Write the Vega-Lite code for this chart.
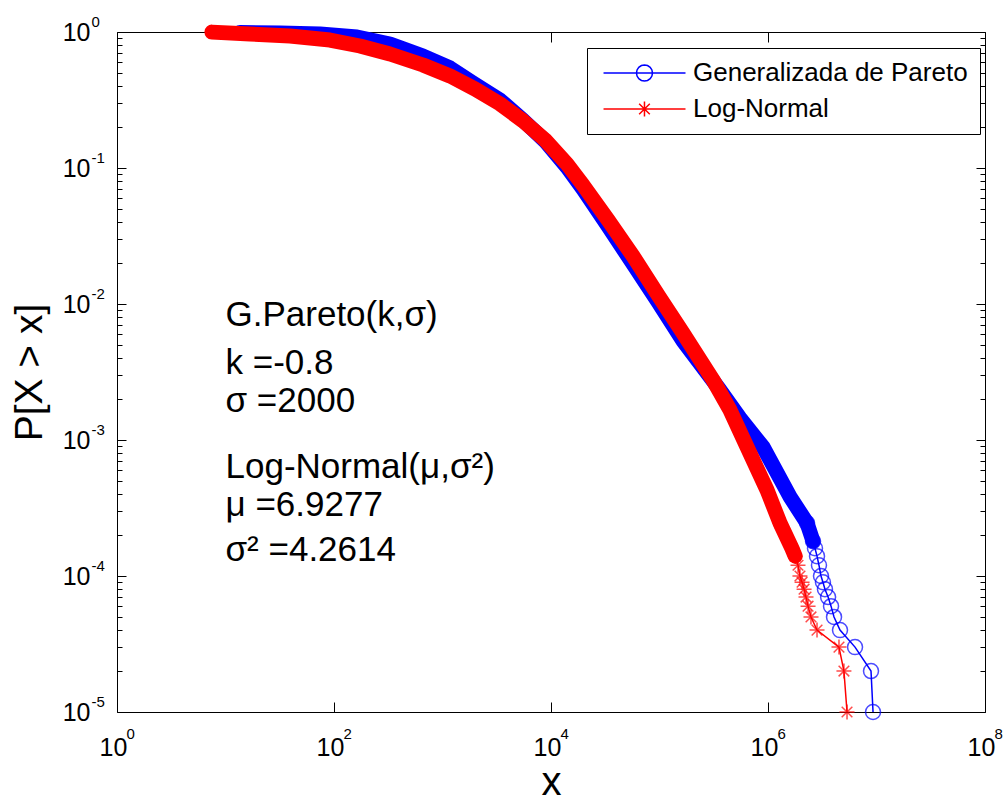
{
  "$schema": "https://vega.github.io/schema/vega-lite/v6.json",
  "width": 868,
  "height": 680,
  "autosize": {"type": "none"},
  "padding": {"left": 117, "top": 32, "right": 23, "bottom": 91},
  "background": "white",
  "config": {
    "view": {"stroke": null},
    "font": "Liberation Sans",
    "axis": {
      "labelFont": "Liberation Sans",
      "titleFont": "Liberation Sans",
      "labelColor": "black",
      "titleColor": "black",
      "tickColor": "black",
      "tickWidth": 1,
      "domainColor": "black",
      "domainWidth": 1,
      "domain": false,
      "grid": false,
      "labelFlush": false,
      "labelOverlap": false,
      "labelBound": false,
      "titleFontWeight": "normal",
      "zindex": 1
    }
  },
  "datasets": {
    "curves": [
      {"serie": "Generalizada de Pareto", "x": 13.6, "p": 0.992},
      {"serie": "Generalizada de Pareto", "x": 31.8, "p": 0.983},
      {"serie": "Generalizada de Pareto", "x": 74.3, "p": 0.967},
      {"serie": "Generalizada de Pareto", "x": 163, "p": 0.919},
      {"serie": "Generalizada de Pareto", "x": 328, "p": 0.816},
      {"serie": "Generalizada de Pareto", "x": 661, "p": 0.666},
      {"serie": "Generalizada de Pareto", "x": 1172, "p": 0.544},
      {"serie": "Generalizada de Pareto", "x": 1910, "p": 0.422},
      {"serie": "Generalizada de Pareto", "x": 3390, "p": 0.316},
      {"serie": "Generalizada de Pareto", "x": 5520, "p": 0.225},
      {"serie": "Generalizada de Pareto", "x": 8810, "p": 0.158},
      {"serie": "Generalizada de Pareto", "x": 14040, "p": 0.1016},
      {"serie": "Generalizada de Pareto", "x": 19720, "p": 0.0701},
      {"serie": "Generalizada de Pareto", "x": 33500, "p": 0.0375},
      {"serie": "Generalizada de Pareto", "x": 57000, "p": 0.0197},
      {"serie": "Generalizada de Pareto", "x": 96900, "p": 0.01035},
      {"serie": "Generalizada de Pareto", "x": 164800, "p": 0.00535},
      {"serie": "Generalizada de Pareto", "x": 361000, "p": 0.00233},
      {"serie": "Generalizada de Pareto", "x": 552000, "p": 0.00145},
      {"serie": "Generalizada de Pareto", "x": 899000, "p": 0.000889},
      {"serie": "Generalizada de Pareto", "x": 1600000, "p": 0.000381},
      {"serie": "Generalizada de Pareto", "x": 2290000, "p": 0.000245},
      {"serie": "Generalizada de Pareto", "x": 2600000, "p": 0.00018},
      {"serie": "Generalizada de Pareto", "x": 2710000, "p": 0.00016},
      {"serie": "Generalizada de Pareto", "x": 2830000, "p": 0.00014},
      {"serie": "Generalizada de Pareto", "x": 2950000, "p": 0.00012},
      {"serie": "Generalizada de Pareto", "x": 3080000, "p": 0.0001},
      {"serie": "Generalizada de Pareto", "x": 3210000, "p": 0.00009},
      {"serie": "Generalizada de Pareto", "x": 3350000, "p": 0.00008},
      {"serie": "Generalizada de Pareto", "x": 3580000, "p": 0.00007},
      {"serie": "Generalizada de Pareto", "x": 3810000, "p": 0.00006},
      {"serie": "Generalizada de Pareto", "x": 4060000, "p": 0.00005},
      {"serie": "Generalizada de Pareto", "x": 4610000, "p": 0.00004},
      {"serie": "Generalizada de Pareto", "x": 6340000, "p": 0.00003},
      {"serie": "Generalizada de Pareto", "x": 8900000, "p": 0.00002},
      {"serie": "Generalizada de Pareto", "x": 9290000, "p": 0.00001},
      {"serie": "Log-Normal", "x": 7.5, "p": 0.998},
      {"serie": "Log-Normal", "x": 16.8, "p": 0.967},
      {"serie": "Log-Normal", "x": 39.3, "p": 0.934},
      {"serie": "Log-Normal", "x": 91.8, "p": 0.873},
      {"serie": "Log-Normal", "x": 173.6, "p": 0.789},
      {"serie": "Log-Normal", "x": 328, "p": 0.689},
      {"serie": "Log-Normal", "x": 661, "p": 0.572},
      {"serie": "Log-Normal", "x": 1172, "p": 0.475},
      {"serie": "Log-Normal", "x": 1994, "p": 0.381},
      {"serie": "Log-Normal", "x": 3390, "p": 0.296},
      {"serie": "Log-Normal", "x": 5520, "p": 0.222},
      {"serie": "Log-Normal", "x": 8810, "p": 0.161},
      {"serie": "Log-Normal", "x": 14040, "p": 0.107},
      {"serie": "Log-Normal", "x": 19720, "p": 0.075},
      {"serie": "Log-Normal", "x": 33500, "p": 0.0415},
      {"serie": "Log-Normal", "x": 57000, "p": 0.02254},
      {"serie": "Log-Normal", "x": 96900, "p": 0.01165},
      {"serie": "Log-Normal", "x": 164800, "p": 0.00612},
      {"serie": "Log-Normal", "x": 311400, "p": 0.00276},
      {"serie": "Log-Normal", "x": 446700, "p": 0.00166},
      {"serie": "Log-Normal", "x": 640300, "p": 0.000889},
      {"serie": "Log-Normal", "x": 979000, "p": 0.000429},
      {"serie": "Log-Normal", "x": 1290000, "p": 0.000245},
      {"serie": "Log-Normal", "x": 1660000, "p": 0.00016},
      {"serie": "Log-Normal", "x": 1780000, "p": 0.00014},
      {"serie": "Log-Normal", "x": 1890000, "p": 0.00012},
      {"serie": "Log-Normal", "x": 1970000, "p": 0.0001},
      {"serie": "Log-Normal", "x": 2060000, "p": 0.00009},
      {"serie": "Log-Normal", "x": 2150000, "p": 0.00008},
      {"serie": "Log-Normal", "x": 2240000, "p": 0.00007},
      {"serie": "Log-Normal", "x": 2340000, "p": 0.00006},
      {"serie": "Log-Normal", "x": 2490000, "p": 0.00005},
      {"serie": "Log-Normal", "x": 2830000, "p": 0.00004},
      {"serie": "Log-Normal", "x": 4510000, "p": 0.00003},
      {"serie": "Log-Normal", "x": 5010000, "p": 0.00002},
      {"serie": "Log-Normal", "x": 5350000, "p": 0.00001}
    ],
    "notes": [
      {"label": "G.Pareto(k,σ)", "x": 10, "p": 0.0083},
      {"label": "k =-0.8", "x": 10, "p": 0.0037},
      {"label": "σ =2000", "x": 10, "p": 0.00194},
      {"label": "Log-Normal(μ,σ²)", "x": 10, "p": 0.00063},
      {"label": "μ =6.9277", "x": 10, "p": 0.000335},
      {"label": "σ² =4.2614", "x": 10, "p": 0.000155}
    ]
  },
  "data": {"name": "curves"},
  "resolve": {"axis": {"x": "independent", "y": "independent"}},
  "layer": [
    {
      "transform": [{"filter": "datum.serie === 'Generalizada de Pareto' && datum.p >= 0.00018"}],
      "mark": {"type": "line", "strokeWidth": 15, "strokeCap": "round", "strokeJoin": "round"},
      "encoding": {
        "x": {"field": "x", "type": "quantitative", "scale": {"type": "log", "domain": [1, 100000000], "nice": false},
          "axis": {"orient": "bottom", "values": [1, 100, 10000, 1000000, 100000000], "labelExpr": "'10'", "tickSize": -10, "domain": true,
            "labelFontSize": 25, "labelPadding": 33, "labelBaseline": "top", "labelAlign": "center", "labelOffset": -4,
            "title": "x", "titleFontSize": 40, "titlePadding": 2}},
        "y": {"field": "p", "type": "quantitative", "scale": {"type": "log", "domain": [0.00001, 1], "nice": false},
          "axis": {"orient": "left", "values": [0.00001, 0.0001, 0.001, 0.01, 0.1, 1], "labelExpr": "'10'", "tickSize": -9, "domain": true,
            "labelFontSize": 25, "labelPadding": 36, "labelAlign": "right", "labelBaseline": "middle",
            "title": "P[X > x]", "titleFontSize": 39, "titlePadding": 13}},
        "stroke": {"field": "serie", "type": "nominal", "scale": {"domain": ["Generalizada de Pareto", "Log-Normal"], "range": ["#0000ff", "#ff0000"]},
          "legend": {
            "title": null, "orient": "none", "legendX": 470, "legendY": 16, "direction": "vertical",
            "strokeColor": "black", "fillColor": "white", "padding": 12, "cornerRadius": 0,
            "labelFont": "Liberation Sans", "labelFontSize": 26, "labelColor": "black", "labelOffset": 68, "labelBaseline": "middle", "labelLimit": 600,
            "rowPadding": 10, "symbolSize": 225, "symbolStrokeWidth": 1.5, "symbolFillColor": "transparent",
            "encode": {"symbols": {"update": {
              "shape": {"signal": "datum.value === 'Log-Normal' ? 'M-1.13,0L9.8,0M4.33,-1L4.33,1M3.33,0L5.33,0M3.62,-0.71L5.04,0.71M3.62,0.71L5.04,-0.71' : 'M-1.13,0L9.8,0M5.4,0L5.32,0.41L5.09,0.76L4.74,0.99L4.33,1.07L3.92,0.99L3.57,0.76L3.34,0.41L3.26,0L3.34,-0.41L3.57,-0.76L3.92,-0.99L4.33,-1.07L4.74,-0.99L5.09,-0.76L5.32,-0.41Z'"},
              "fill": {"value": "transparent"}
            }}}
          }}
      }
    },
    {
      "transform": [{"filter": "datum.serie === 'Generalizada de Pareto'"}],
      "mark": {"type": "line", "strokeWidth": 1.5},
      "encoding": {
        "x": {"field": "x", "type": "quantitative", "scale": {"type": "log", "domain": [1, 100000000], "nice": false},
          "axis": {"orient": "bottom", "values": [1, 100, 10000, 1000000, 100000000], "labelExpr": "'' + round(log(datum.value) / LN10)", "ticks": false,
            "labelFontSize": 15, "labelPadding": 14, "labelBaseline": "top", "labelAlign": "left", "labelOffset": 9, "title": null}},
        "y": {"field": "p", "type": "quantitative", "scale": {"type": "log", "domain": [0.00001, 1], "nice": false},
          "axis": {"orient": "left", "values": [0.00001, 0.0001, 0.001, 0.01, 0.1, 1], "labelExpr": "'' + round(log(datum.value) / LN10)", "ticks": false,
            "labelFontSize": 15, "labelPadding": 26, "labelAlign": "left", "labelBaseline": "middle", "labelOffset": -11, "title": null}},
        "stroke": {"field": "serie", "type": "nominal", "scale": {"domain": ["Generalizada de Pareto", "Log-Normal"], "range": ["#0000ff", "#ff0000"]}}
      }
    },
    {
      "transform": [{"filter": "datum.serie === 'Generalizada de Pareto' && datum.p <= 0.00025"}],
      "mark": {"type": "point", "shape": "circle", "filled": false, "size": 225, "strokeWidth": 1.5},
      "encoding": {
        "x": {"field": "x", "type": "quantitative", "scale": {"type": "log", "domain": [1, 100000000], "nice": false},
          "axis": {"orient": "top", "values": [1, 100, 10000, 1000000, 100000000], "labels": false, "tickSize": -10, "domain": true, "title": null}},
        "y": {"field": "p", "type": "quantitative", "scale": {"type": "log", "domain": [0.00001, 1], "nice": false},
          "axis": {"orient": "right", "values": [0.00001, 0.0001, 0.001, 0.01, 0.1, 1], "labels": false, "tickSize": -9, "domain": true, "title": null}},
        "stroke": {"field": "serie", "type": "nominal", "scale": {"domain": ["Generalizada de Pareto", "Log-Normal"], "range": ["#0000ff", "#ff0000"]}}
      }
    },
    {
      "transform": [{"filter": "datum.serie === 'Log-Normal' && datum.p >= 0.00014"}],
      "mark": {"type": "line", "strokeWidth": 15, "strokeCap": "round", "strokeJoin": "round"},
      "encoding": {
        "x": {"field": "x", "type": "quantitative", "scale": {"type": "log", "domain": [1, 100000000], "nice": false}, "axis": null},
        "y": {"field": "p", "type": "quantitative", "scale": {"type": "log", "domain": [0.00001, 1], "nice": false},
          "axis": {"orient": "left", "values": [0.00002,0.00003,0.00004,0.00005,0.00006,0.00007,0.00008,0.00009,0.0002,0.0003,0.0004,0.0005,0.0006,0.0007,0.0008,0.0009,0.002,0.003,0.004,0.005,0.006,0.007,0.008,0.009,0.02,0.03,0.04,0.05,0.06,0.07,0.08,0.09,0.2,0.3,0.4,0.5,0.6,0.7,0.8,0.9], "labels": false, "tickSize": -5, "title": null}},
        "stroke": {"field": "serie", "type": "nominal", "scale": {"domain": ["Generalizada de Pareto", "Log-Normal"], "range": ["#0000ff", "#ff0000"]}}
      }
    },
    {
      "transform": [{"filter": "datum.serie === 'Log-Normal'"}],
      "mark": {"type": "line", "strokeWidth": 1.5},
      "encoding": {
        "x": {"field": "x", "type": "quantitative", "scale": {"type": "log", "domain": [1, 100000000], "nice": false}, "axis": null},
        "y": {"field": "p", "type": "quantitative", "scale": {"type": "log", "domain": [0.00001, 1], "nice": false},
          "axis": {"orient": "right", "values": [0.00002,0.00003,0.00004,0.00005,0.00006,0.00007,0.00008,0.00009,0.0002,0.0003,0.0004,0.0005,0.0006,0.0007,0.0008,0.0009,0.002,0.003,0.004,0.005,0.006,0.007,0.008,0.009,0.02,0.03,0.04,0.05,0.06,0.07,0.08,0.09,0.2,0.3,0.4,0.5,0.6,0.7,0.8,0.9], "labels": false, "tickSize": -5, "title": null}},
        "stroke": {"field": "serie", "type": "nominal", "scale": {"domain": ["Generalizada de Pareto", "Log-Normal"], "range": ["#0000ff", "#ff0000"]}}
      }
    },
    {
      "transform": [{"filter": "datum.serie === 'Log-Normal' && datum.p <= 0.00025"}],
      "mark": {"type": "point", "shape": "M-1,0L1,0M0,-1L0,1M-0.71,-0.71L0.71,0.71M-0.71,0.71L0.71,-0.71", "filled": false, "size": 225, "strokeWidth": 1.5},
      "encoding": {
        "x": {"field": "x", "type": "quantitative", "scale": {"type": "log", "domain": [1, 100000000], "nice": false}, "axis": null},
        "y": {"field": "p", "type": "quantitative", "scale": {"type": "log", "domain": [0.00001, 1], "nice": false}, "axis": null},
        "stroke": {"field": "serie", "type": "nominal", "scale": {"domain": ["Generalizada de Pareto", "Log-Normal"], "range": ["#0000ff", "#ff0000"]}}
      }
    },
    {
      "data": {"name": "notes"},
      "mark": {"type": "text", "align": "left", "baseline": "middle", "font": "Liberation Sans", "fontSize": 35, "color": "black"},
      "encoding": {
        "x": {"field": "x", "type": "quantitative", "scale": {"type": "log", "domain": [1, 100000000], "nice": false}, "axis": null},
        "y": {"field": "p", "type": "quantitative", "scale": {"type": "log", "domain": [0.00001, 1], "nice": false}, "axis": null},
        "text": {"field": "label", "type": "nominal"}
      }
    }
  ]
}
